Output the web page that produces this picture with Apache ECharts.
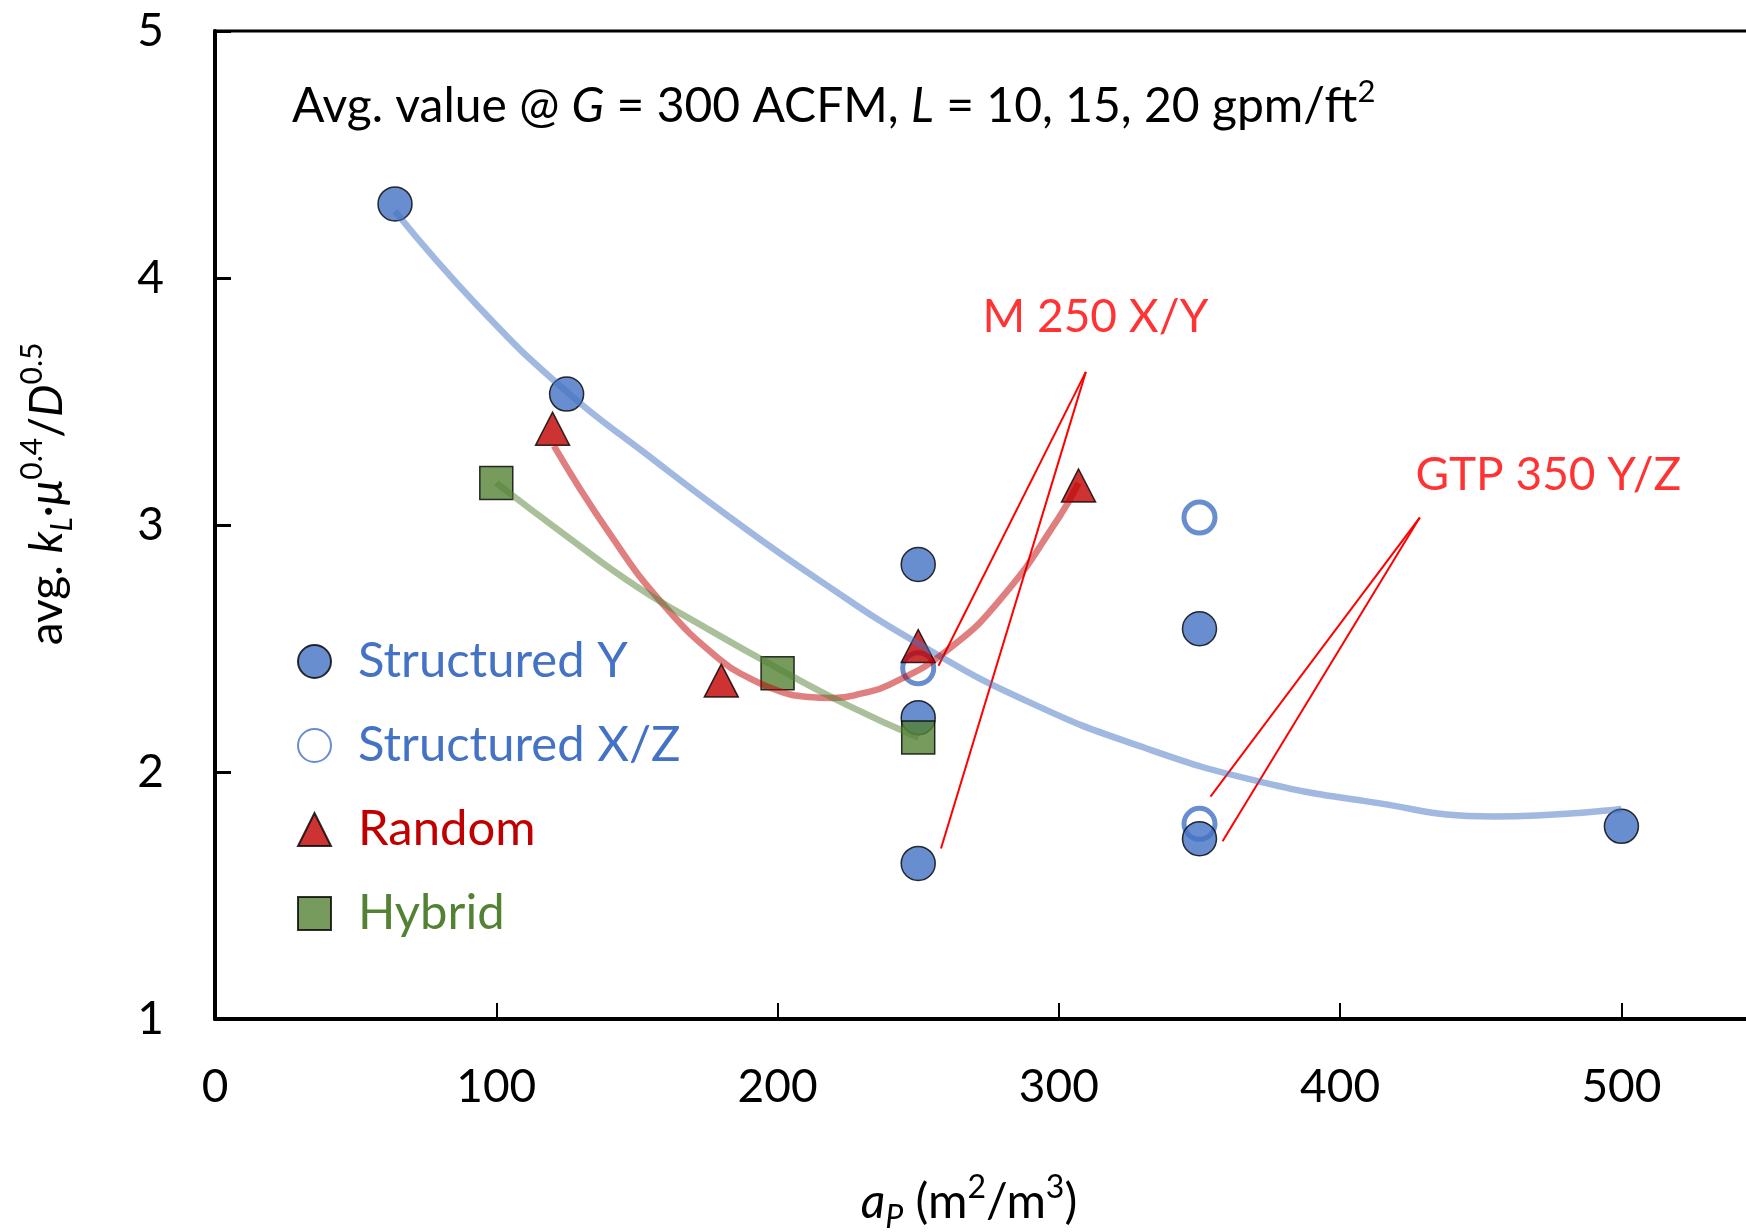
<!DOCTYPE html>
<html lang="en">
<head>
<meta charset="utf-8">
<title>avg. kL vs packing area</title>
<script src="https://cdn.jsdelivr.net/npm/echarts@6.0.0/dist/echarts.min.js"></script>
<style>
    html, body { margin: 0; padding: 0; background: #fff; }
    #chart { width: 1746px; height: 1232px; }
</style>
</head>
<body>
<div id="chart"></div>
<script>
// measured points [a_p, avg. kL*mu^0.4/D^0.5]
const structuredY = [[64, 4.30], [125, 3.53], [250, 2.84], [250, 2.22], [250, 1.63], [350, 2.58], [350, 1.73], [500, 1.78]];
const structuredXZ = [[250, 2.42], [350, 3.03], [350, 1.79]];
const randomPk = [[120, 3.39], [180, 2.37], [250, 2.51], [307, 3.16]];
const hybrid = [[100, 3.17], [200, 2.40], [250, 2.14]];

// trend curves
const fitStructured = [[64, 4.27], [94, 3.88], [125, 3.54], [153, 3.29], [182, 3.04], [215, 2.775], [250, 2.52],
    [290, 2.28], [330, 2.10], [370, 1.965], [410, 1.88], [455, 1.82], [500, 1.85]];
const fitRandom = [[120.5, 3.32], [140, 2.97], [160, 2.67], [180, 2.45], [190, 2.38], [200, 2.33], [210, 2.305], [220, 2.30],
    [230, 2.318], [240, 2.355], [260, 2.49], [280, 2.71], [300, 3.03], [307, 3.17]];
const fitHybrid = [[100, 3.17], [125, 2.955], [150, 2.75], [175, 2.58], [200, 2.42], [225, 2.27], [250, 2.14]];

// callouts
const m250Lines = [[[309.6, 3.62], [257.2, 2.43]], [[309.6, 3.62], [258.1, 1.69]]];
const gtpLines = [[[428.3, 3.03], [353.9, 1.90]], [[428.3, 3.03], [358.2, 1.72]]];
const calloutLabels = [{ name: 'M 250 X/Y', value: [313, 3.84] }, { name: 'GTP 350 Y/Z', value: [474, 3.20] }];

const xTicks = [0, 100, 200, 300, 400, 500];
const yTicks = [1, 2, 3, 4, 5];

const BLUE = '#4472C4', RED = '#C00000', GREEN = '#548235';
const FONT = 'Lato';

const chart = echarts.init(document.getElementById('chart'));

function trend(data, color) {
    return {
        type: 'line', data: data, smooth: 0.5,
        showSymbol: false, symbol: 'none', silent: true, z: 5,
        lineStyle: { color: color, width: 6.5, opacity: 0.5 }
    };
}

function pairs(list) {
    return list.map(p => [{ coord: p[0] }, { coord: p[1] }]);
}

const option = {
    animation: false,
    backgroundColor: '#fff',
    grid: {
        left: 215, top: 31, width: 1533, height: 988,
        outerBoundsMode: 'none', containLabel: false,
        show: true, borderColor: '#000', borderWidth: 3
    },
    legend: {
        data: [
            { name: 'Structured Y', textStyle: { color: BLUE } },
            { name: 'Structured X/Z', textStyle: { color: BLUE } },
            { name: 'Random', textStyle: { color: RED } },
            { name: 'Hybrid', textStyle: { color: GREEN } }
        ],
        orient: 'vertical', left: 292, top: 632,
        itemWidth: 33, itemHeight: 33, itemGap: 35,
        selectedMode: false,
        textStyle: { fontFamily: FONT, fontSize: 49, lineHeight: 48, padding: [0, 0, 0, 22] }
    },
    xAxis: {
        type: 'value', min: 0, max: 545, interval: 100,
        axisLine: { lineStyle: { color: '#000', width: 4 } },
        axisTick: { inside: true, length: 16, lineStyle: { color: '#000', width: 2 } },
        axisLabel: { margin: 45, color: '#000', fontFamily: FONT, fontSize: 46, showMaxLabel: false,
            formatter: v => xTicks.includes(v) ? String(v) : '' },
        splitLine: { show: false }
    },
    yAxis: {
        type: 'value', min: 1, max: 5, interval: 1,
        axisLine: { show: true, lineStyle: { color: '#000', width: 4 } },
        axisTick: { show: true, inside: true, length: 16, lineStyle: { color: '#000', width: 3 } },
        axisLabel: { margin: 51, color: '#000', fontFamily: FONT, fontSize: 46,
            formatter: v => yTicks.includes(v) ? String(v) : '' },
        splitLine: { show: false }
    },
    graphic: [
        {
            type: 'text', x: 292, y: 107,
            style: {
                text: 'Avg. value @ {i|G} = 300 ACFM, {i|L} = 10, 15, 20 gpm/ft{sup|2}',
                fontFamily: FONT, fontSize: 48, lineHeight: 62, fill: '#000',
                align: 'left', verticalAlign: 'middle',
                rich: {
                    i: { fontFamily: FONT, fontSize: 48, fontStyle: 'italic', lineHeight: 62, fill: '#000' },
                    sup: { fontFamily: FONT, fontSize: 31, lineHeight: 38, verticalAlign: 'top', fill: '#000' }
                }
            }
        },
        {
            type: 'text', x: 47, y: 494, rotation: Math.PI / 2,
            style: {
                text: 'avg. {i|k}{sub|L}·{i|μ}{sup|0.4}/{i|D}{sup|0.5}',
                fontFamily: FONT, fontSize: 46, lineHeight: 60, fill: '#000',
                align: 'center', verticalAlign: 'middle',
                rich: {
                    i: { fontFamily: FONT, fontSize: 46, fontStyle: 'italic', lineHeight: 60, fill: '#000' },
                    sub: { fontFamily: FONT, fontSize: 30, fontStyle: 'italic', lineHeight: 30, verticalAlign: 'bottom', fill: '#000' },
                    sup: { fontFamily: FONT, fontSize: 30, lineHeight: 36, verticalAlign: 'top', fill: '#000' }
                }
            }
        },
        {
            type: 'text', x: 969, y: 1203,
            style: {
                text: '{i|a}{sub|P} (m{sup|2}/m{sup|3})',
                fontFamily: FONT, fontSize: 48, lineHeight: 62, fill: '#000',
                align: 'center', verticalAlign: 'middle',
                rich: {
                    i: { fontFamily: FONT, fontSize: 48, fontStyle: 'italic', lineHeight: 62, fill: '#000' },
                    sub: { fontFamily: FONT, fontSize: 32, fontStyle: 'italic', lineHeight: 30, verticalAlign: 'bottom', fill: '#000' },
                    sup: { fontFamily: FONT, fontSize: 32, lineHeight: 38, verticalAlign: 'top', fill: '#000' }
                }
            }
        }
    ],
    series: [
        {
            name: 'Structured X/Z', type: 'scatter', data: structuredXZ, z: 2,
            symbol: 'circle', symbolSize: 31,
            itemStyle: { color: '#fff', borderColor: BLUE, borderWidth: 5 }
        },
        {
            name: 'Structured Y', type: 'scatter', data: structuredY, z: 2,
            symbol: 'circle', symbolSize: 34,
            itemStyle: { color: BLUE, borderColor: '#000', borderWidth: 1.5 }
        },
        {
            name: 'Random', type: 'scatter', data: randomPk, z: 2,
            symbol: 'triangle', symbolSize: [34, 33],
            itemStyle: { color: RED, borderColor: '#000', borderWidth: 1.5 }
        },
        {
            name: 'Hybrid', type: 'scatter', data: hybrid, z: 2,
            symbol: 'rect', symbolSize: 33,
            itemStyle: { color: GREEN, borderColor: '#000', borderWidth: 1.5 }
        },
        trend(fitStructured, BLUE),
        trend(fitRandom, RED),
        trend(fitHybrid, GREEN),
        {
            name: 'callouts', type: 'scatter', data: calloutLabels, z: 6,
            symbolSize: 0, silent: true,
            label: { show: true, position: 'inside', formatter: '{b}', color: '#FF0000', fontFamily: FONT, fontSize: 46 },
            markLine: {
                silent: true, symbol: ['none', 'none'], animation: false,
                label: { show: false },
                lineStyle: { color: '#FF0000', width: 2, type: 'solid' },
                data: pairs(m250Lines).concat(pairs(gtpLines))
            }
        }
    ]
};

chart.setOption(option);
window.addEventListener('resize', () => chart.resize());
</script>
</body>
</html>
